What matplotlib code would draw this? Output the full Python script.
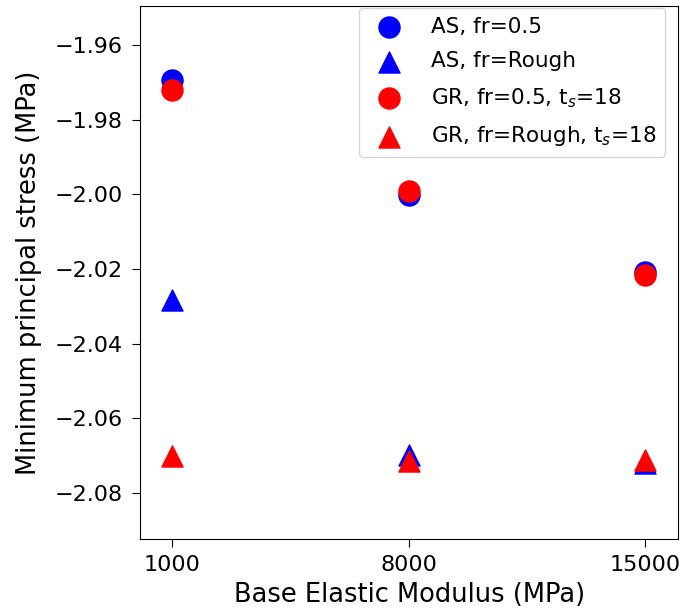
import numpy as np
import matplotlib.pyplot as plt

# datos
modulos = ["1000", "8000", "15000"]
as_fr05 = [-1.9694, -2.0003, -2.0207]
as_rough = [-2.0283, -2.0698, -2.0719]
gr_fr05 = [-1.9720, -1.9990, -2.0216]
gr_rough = [-2.0702, -2.0715, -2.0711]

x = np.arange(len(modulos))

fig = plt.figure(figsize=(6.83, 6.13), dpi=100)
ax = fig.add_axes([0.2057, 0.1207, 0.787, 0.8695])

ax.scatter(x, as_fr05, s=230, marker="o", color="blue", label="AS, fr=0.5")
ax.scatter(x, as_rough, s=230, marker="^", color="blue", label="AS, fr=Rough")
ax.scatter(x, gr_fr05, s=230, marker="o", color="red", label="GR, fr=0.5, t$_s$=18")
ax.scatter(x, gr_rough, s=230, marker="^", color="red", label="GR, fr=Rough, t$_s$=18")

ax.set_xticks(x)
ax.set_xticklabels(modulos)
ax.set_xlim(-0.135, 2.14)
ax.set_ylim(-2.0923, -1.9496)
ax.set_yticks([-1.96, -1.98, -2.00, -2.02, -2.04, -2.06, -2.08])
ax.tick_params(labelsize=16, length=6)
ax.tick_params(axis="x", pad=5.5)
ax.tick_params(axis="y", pad=6.5)

ax.set_xlabel("Base Elastic Modulus (MPa)", fontsize=18.5, labelpad=5)
ax.set_ylabel("Minimum principal stress (MPa)", fontsize=18.5, labelpad=9)
ax.legend(loc="upper right", bbox_to_anchor=(0.9758, 0.9962), borderaxespad=0,
          fontsize=15.5, labelspacing=0.68, handletextpad=0.95)

plt.savefig("out.png")
